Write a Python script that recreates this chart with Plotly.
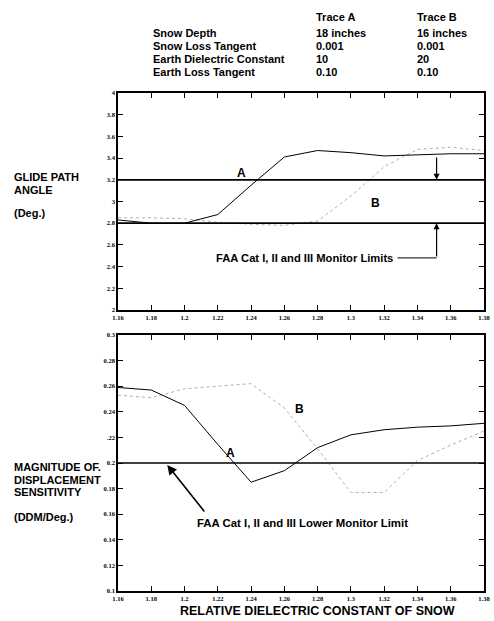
import plotly.graph_objects as go

# ---------------- data ----------------
eps_snow = [1.16, 1.18, 1.20, 1.22, 1.24, 1.26, 1.28, 1.30, 1.32, 1.34, 1.36, 1.38]

gp_trace_a = [2.83, 2.80, 2.80, 2.88, 3.15, 3.41, 3.47, 3.45, 3.42, 3.43, 3.44, 3.44]
gp_trace_b = [2.85, 2.85, 2.84, 2.81, 2.79, 2.78, 2.82, 3.05, 3.32, 3.48, 3.50, 3.47]

ds_trace_a = [0.259, 0.257, 0.245, 0.2145, 0.185, 0.194, 0.212, 0.222, 0.226, 0.228, 0.229, 0.231]
ds_trace_b = [0.253, 0.251, 0.258, 0.260, 0.262, 0.243, 0.211, 0.177, 0.177, 0.202, 0.214, 0.225]

gp_limits = [3.2, 2.8]
ds_limit = 0.2

x_ticks = [1.16, 1.18, 1.20, 1.22, 1.24, 1.26, 1.28, 1.30, 1.32, 1.34, 1.36, 1.38]
x_ticktext = ["1.16", "1.18", "1.2", "1.22", "1.24", "1.26", "1.28", "1.3", "1.32", "1.34", "1.36", "1.38"]
gp_ticks = [2, 2.2, 2.4, 2.6, 2.8, 3, 3.2, 3.4, 3.6, 3.8, 4]
gp_ticktext = ["2", "2.2", "2.4", "2.6", "2.8", "3", "3.2", "3.4", "3.6", "3.8", "4"]
ds_ticks = [0.1, 0.12, 0.14, 0.16, 0.18, 0.2, 0.22, 0.24, 0.26, 0.28, 0.3]
ds_ticktext = ["0.1", "0.12", "0.14", "0.16", "0.18", "0.2", ".22", "0.24", "0.26", "0.28", "0.3"]

header_rows = ["Snow Depth", "Snow Loss Tangent", "Earth Dielectric Constant", "Earth Loss Tangent"]
header_a = ["18 inches", "0.001", "10", "0.10"]
header_b = ["16 inches", "0.001", "20", "0.10"]

# ---------------- geometry helpers (pixel -> paper) ----------------
W, H = 494, 621
L, R, T, B = 118, 490, 93, 591


def px(x):
    return (x - L) / (R - L)


def py(y):
    return (B - y) / (B - T)


TXT = "Liberation Sans, Arial, sans-serif"
TICKF = dict(family="Liberation Serif, Times New Roman, serif", size=6.5, color="black", weight="bold")
B_COLOR = "#b0b0b0"

fig = go.Figure()

# Top plot traces
fig.add_trace(go.Scatter(x=eps_snow, y=gp_trace_b, mode="lines",
                         line=dict(color=B_COLOR, width=1, dash="dot"), xaxis="x", yaxis="y"))
fig.add_trace(go.Scatter(x=eps_snow, y=gp_trace_a, mode="lines",
                         line=dict(color="black", width=1), xaxis="x", yaxis="y"))
for lim in gp_limits:
    fig.add_trace(go.Scatter(x=[x_ticks[0], x_ticks[-1]], y=[lim, lim], mode="lines",
                             line=dict(color="black", width=1.7), xaxis="x", yaxis="y"))

# Bottom plot traces
fig.add_trace(go.Scatter(x=eps_snow, y=ds_trace_b, mode="lines",
                         line=dict(color=B_COLOR, width=1, dash="dot"), xaxis="x2", yaxis="y2"))
fig.add_trace(go.Scatter(x=eps_snow, y=ds_trace_a, mode="lines",
                         line=dict(color="black", width=1), xaxis="x2", yaxis="y2"))
fig.add_trace(go.Scatter(x=[x_ticks[0], x_ticks[-1]], y=[ds_limit, ds_limit], mode="lines",
                         line=dict(color="black", width=1.7), xaxis="x2", yaxis="y2"))

axis_common = dict(showgrid=False, zeroline=False, showline=True, linecolor="black", linewidth=1.6,
                   mirror="allticks", ticks="inside", ticklen=5, tickwidth=1, tickcolor="black",
                   tickfont=TICKF, ticklabeloverflow="allow")

fig.update_layout(
    width=W, height=H,
    margin=dict(l=L, r=W - R, t=T, b=H - B),
    paper_bgcolor="white", plot_bgcolor="white",
    showlegend=False,
    xaxis=dict(axis_common, domain=[0, 1], range=[1.16, 1.38], tickvals=x_ticks, ticktext=x_ticktext,
               anchor="y"),
    yaxis=dict(axis_common, domain=[py(310), 1], range=[2, 4], tickvals=gp_ticks, ticktext=gp_ticktext,
               anchor="x"),
    xaxis2=dict(axis_common, domain=[0, 1], range=[1.16, 1.38], tickvals=x_ticks, ticktext=x_ticktext,
                anchor="y2"),
    yaxis2=dict(axis_common, domain=[0, py(335)], range=[0.1, 0.3], tickvals=ds_ticks,
                ticktext=ds_ticktext, anchor="x2"),
)

ann = []


def ptext(x, y, text, size=11, xanchor="left", bold=True):
    ann.append(dict(xref="paper", yref="paper", x=px(x), y=py(y), text=text, showarrow=False,
                    xanchor=xanchor, yanchor="middle",
                    font=dict(family=TXT, size=size, color="black", weight="bold" if bold else "normal")))


# Header table
ptext(317, 17, "Trace A")
ptext(420, 17, "Trace B")
row_y = [33, 46, 59, 72]
for yy, lab, a, b in zip(row_y, header_rows, header_a, header_b):
    ptext(152, yy, lab)
    ptext(317, yy, a)
    ptext(420, yy, b)

# Left axis labels
ptext(10, 177, "GLIDE PATH")
ptext(10, 190, "ANGLE")
ptext(10, 213, "(Deg.)")
ptext(10, 467, "MAGNITUDE OF.")
ptext(10, 480, "DISPLACEMENT")
ptext(10, 492, "SENSITIVITY")
ptext(10, 517, "(DDM/Deg.)")

# X axis title
ptext(321, 611, "RELATIVE DIELECTRIC CONSTANT OF SNOW", size=12.5, xanchor="center")


# Data-anchored annotations
def dtext(x, y, text, xr="x", yr="y", size=11, xanchor="center"):
    ann.append(dict(xref=xr, yref=yr, x=x, y=y, text=text, showarrow=False, xanchor=xanchor,
                    yanchor="middle", font=dict(family=TXT, size=size, color="black", weight="bold")))


dtext(1.234, 3.26, "A", size=12)
dtext(1.315, 2.99, "B", size=12)
dtext(1.3265, 2.48, "FAA Cat I, II and III Monitor Limits", size=11.2, xanchor="right")
# arrow down onto upper limit
ann.append(dict(xref="x", yref="y", axref="x", ayref="y", x=1.3515, y=3.2, ax=1.3515, ay=3.42,
                showarrow=True, arrowhead=2, arrowsize=1, arrowwidth=1.2, arrowcolor="black", text=""))
# arrow up onto lower limit
ann.append(dict(xref="x", yref="y", axref="x", ayref="y", x=1.3515, y=2.8, ax=1.3515, ay=2.48,
                showarrow=True, arrowhead=2, arrowsize=1, arrowwidth=1.2, arrowcolor="black", text=""))
fig.add_shape(type="line", xref="x", yref="y", x0=1.328, x1=1.3515, y0=2.48, y1=2.48,
              line=dict(color="black", width=1))

# Bottom plot annotations
dtext(1.2274, 0.208, "A", xr="x2", yr="y2", size=12)
dtext(1.269, 0.242, "B", xr="x2", yr="y2", size=12)
dtext(1.271, 0.153, "FAA Cat I, II and III Lower Monitor Limit", xr="x2", yr="y2", size=11.4)
ann.append(dict(xref="x2", yref="y2", axref="x2", ayref="y2", x=1.1896, y=0.1985, ax=1.2126, ay=0.161,
                showarrow=True, arrowhead=2, arrowsize=1.2, arrowwidth=1.6, arrowcolor="black", text=""))

fig.update_layout(annotations=ann)

fig.write_html("out.html")
